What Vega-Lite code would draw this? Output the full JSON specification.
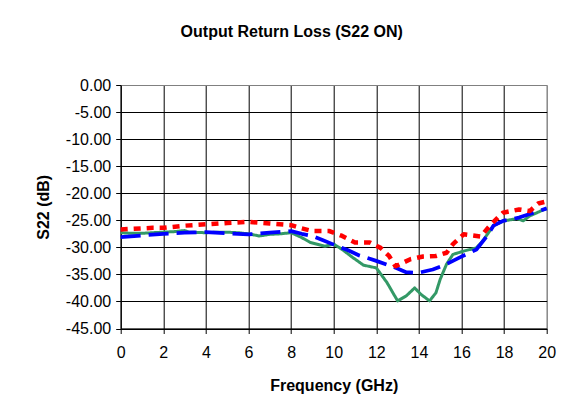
{
  "$schema": "https://vega.github.io/schema/vega-lite/v6.json",
  "autosize": "none",
  "width": 426,
  "height": 243.5,
  "padding": {"left": 120.7, "top": 85, "right": 19.3, "bottom": 80.5},
  "background": "white",
  "title": {
    "text": "Output Return Loss (S22 ON)",
    "font": "Liberation Sans",
    "fontSize": 16,
    "fontWeight": "bold",
    "color": "black",
    "anchor": "middle",
    "dx": -42,
    "offset": 37
  },
  "config": {
    "view": {"stroke": "#808080", "strokeWidth": 1},
    "axis": {
      "labelFont": "Liberation Sans",
      "labelFontSize": 16,
      "labelColor": "black",
      "labelFlush": false,
      "titleFont": "Liberation Sans",
      "titleFontSize": 16,
      "titleFontWeight": "bold",
      "titleColor": "black",
      "domainColor": "black",
      "tickColor": "black",
      "tickSize": 5,
      "gridOpacity": 1,
      "gridWidth": 1
    }
  },
  "data": {
    "values": [
      {"f": 0, "s22": -27.3, "series": "green"},
      {"f": 0.5, "s22": -27.4, "series": "green"},
      {"f": 1, "s22": -27.4, "series": "green"},
      {"f": 1.5, "s22": -27.3, "series": "green"},
      {"f": 2, "s22": -27.2, "series": "green"},
      {"f": 2.5, "s22": -27.1, "series": "green"},
      {"f": 3, "s22": -26.9, "series": "green"},
      {"f": 3.2, "s22": -27.2, "series": "green"},
      {"f": 4, "s22": -27.3, "series": "green"},
      {"f": 4.5, "s22": -27.2, "series": "green"},
      {"f": 5, "s22": -27.2, "series": "green"},
      {"f": 5.5, "s22": -27.3, "series": "green"},
      {"f": 6, "s22": -27.5, "series": "green"},
      {"f": 6.5, "s22": -27.9, "series": "green"},
      {"f": 7, "s22": -27.6, "series": "green"},
      {"f": 7.5, "s22": -27.5, "series": "green"},
      {"f": 8, "s22": -27.3, "series": "green"},
      {"f": 8.5, "s22": -28.2, "series": "green"},
      {"f": 8.9, "s22": -29.1, "series": "green"},
      {"f": 9.6, "s22": -29.8, "series": "green"},
      {"f": 10, "s22": -29.4, "series": "green"},
      {"f": 10.4, "s22": -30.4, "series": "green"},
      {"f": 10.9, "s22": -31.9, "series": "green"},
      {"f": 11.4, "s22": -33.3, "series": "green"},
      {"f": 12, "s22": -33.8, "series": "green"},
      {"f": 12.5, "s22": -36.5, "series": "green"},
      {"f": 13, "s22": -39.9, "series": "green"},
      {"f": 13.4, "s22": -39, "series": "green"},
      {"f": 13.8, "s22": -37.5, "series": "green"},
      {"f": 14.1, "s22": -38.7, "series": "green"},
      {"f": 14.5, "s22": -39.9, "series": "green"},
      {"f": 14.8, "s22": -38.4, "series": "green"},
      {"f": 15, "s22": -35.9, "series": "green"},
      {"f": 15.3, "s22": -33.1, "series": "green"},
      {"f": 15.6, "s22": -31.3, "series": "green"},
      {"f": 16.1, "s22": -30.7, "series": "green"},
      {"f": 16.7, "s22": -30.1, "series": "green"},
      {"f": 17, "s22": -28.8, "series": "green"},
      {"f": 17.5, "s22": -26, "series": "green"},
      {"f": 18, "s22": -25.1, "series": "green"},
      {"f": 18.6, "s22": -24.7, "series": "green"},
      {"f": 18.9, "s22": -25.1, "series": "green"},
      {"f": 19.2, "s22": -24.2, "series": "green"},
      {"f": 20, "s22": -22.8, "series": "green"},
      {"f": 0, "s22": -28.1, "series": "blue"},
      {"f": 1, "s22": -27.8, "series": "blue"},
      {"f": 2, "s22": -27.5, "series": "blue"},
      {"f": 3, "s22": -27.3, "series": "blue"},
      {"f": 4, "s22": -27.2, "series": "blue"},
      {"f": 5, "s22": -27.4, "series": "blue"},
      {"f": 6, "s22": -27.6, "series": "blue"},
      {"f": 7, "s22": -27.3, "series": "blue"},
      {"f": 8, "s22": -27, "series": "blue"},
      {"f": 8.5, "s22": -27.5, "series": "blue"},
      {"f": 9, "s22": -27.9, "series": "blue"},
      {"f": 9.5, "s22": -28.7, "series": "blue"},
      {"f": 10, "s22": -29.5, "series": "blue"},
      {"f": 10.65, "s22": -30.5, "series": "blue"},
      {"f": 11.2, "s22": -31.5, "series": "blue"},
      {"f": 12, "s22": -32.5, "series": "blue"},
      {"f": 12.8, "s22": -33.6, "series": "blue"},
      {"f": 13.4, "s22": -34.6, "series": "blue"},
      {"f": 14, "s22": -34.7, "series": "blue"},
      {"f": 14.65, "s22": -34.1, "series": "blue"},
      {"f": 15.2, "s22": -33.3, "series": "blue"},
      {"f": 15.9, "s22": -31.9, "series": "blue"},
      {"f": 16.7, "s22": -30.4, "series": "blue"},
      {"f": 17.2, "s22": -27.9, "series": "blue"},
      {"f": 17.5, "s22": -26, "series": "blue"},
      {"f": 17.95, "s22": -25.1, "series": "blue"},
      {"f": 18.7, "s22": -24.5, "series": "blue"},
      {"f": 19.4, "s22": -23.6, "series": "blue"},
      {"f": 20, "s22": -22.8, "series": "blue"},
      {"f": 0, "s22": -26.7, "series": "red"},
      {"f": 0.5, "s22": -26.6, "series": "red"},
      {"f": 1, "s22": -26.5, "series": "red"},
      {"f": 1.5, "s22": -26.4, "series": "red"},
      {"f": 2, "s22": -26.4, "series": "red"},
      {"f": 3, "s22": -26.0, "series": "red"},
      {"f": 4, "s22": -25.75, "series": "red"},
      {"f": 5, "s22": -25.5, "series": "red"},
      {"f": 6, "s22": -25.3, "series": "red"},
      {"f": 7, "s22": -25.6, "series": "red"},
      {"f": 8, "s22": -25.9, "series": "red"},
      {"f": 8.5, "s22": -26.5, "series": "red"},
      {"f": 9, "s22": -27, "series": "red"},
      {"f": 9.8, "s22": -27, "series": "red"},
      {"f": 10.4, "s22": -27.9, "series": "red"},
      {"f": 11, "s22": -29.1, "series": "red"},
      {"f": 11.7, "s22": -29.1, "series": "red"},
      {"f": 12.2, "s22": -30.1, "series": "red"},
      {"f": 12.6, "s22": -31.6, "series": "red"},
      {"f": 12.9, "s22": -33.5, "series": "red"},
      {"f": 13.6, "s22": -32.2, "series": "red"},
      {"f": 14.2, "s22": -31.7, "series": "red"},
      {"f": 14.8, "s22": -31.6, "series": "red"},
      {"f": 15.3, "s22": -31, "series": "red"},
      {"f": 15.6, "s22": -29.4, "series": "red"},
      {"f": 16.1, "s22": -27.6, "series": "red"},
      {"f": 16.9, "s22": -28, "series": "red"},
      {"f": 17.4, "s22": -25.7, "series": "red"},
      {"f": 17.95, "s22": -23.6, "series": "red"},
      {"f": 18.7, "s22": -23, "series": "red"},
      {"f": 19.2, "s22": -23.3, "series": "red"},
      {"f": 19.6, "s22": -21.9, "series": "red"},
      {"f": 20, "s22": -21.5, "series": "red"}
    ]
  },
  "mark": {"type": "line", "strokeCap": "butt", "strokeJoin": "round"},
  "encoding": {
    "x": {
      "field": "f",
      "type": "quantitative",
      "scale": {"domain": [0, 20], "nice": false},
      "axis": {
        "title": "Frequency (GHz)",
        "values": [0, 2, 4, 6, 8, 10, 12, 14, 16, 18, 20],
        "labelPadding": 11,
        "titlePadding": 17,
        "gridColor": {"condition": {"test": "datum.value == 20", "value": "#808080"}, "value": "black"}
      }
    },
    "y": {
      "field": "s22",
      "type": "quantitative",
      "scale": {"domain": [-45, 0], "nice": false},
      "axis": {
        "title": "S22 (dB)",
        "values": [0, -5, -10, -15, -20, -25, -30, -35, -40, -45],
        "labelExpr": "replace(format(datum.value, '.2f'), '\u2212', '-')",
        "labelPadding": 5,
        "titlePadding": 14,
        "gridColor": {"condition": {"test": "datum.value == 0", "value": "#808080"}, "value": "black"}
      }
    },
    "color": {
      "field": "series",
      "type": "nominal",
      "scale": {"domain": ["green", "blue", "red"], "range": ["#339966", "#0000FF", "#FF0000"]},
      "legend": null
    },
    "strokeDash": {
      "field": "series",
      "type": "nominal",
      "scale": {"domain": ["green", "blue", "red"], "range": [[1, 0], [20, 8], [7, 6]]},
      "legend": null
    },
    "strokeWidth": {
      "field": "series",
      "type": "nominal",
      "scale": {"domain": ["green", "blue", "red"], "range": [3, 4.5, 3]},
      "legend": null
    },
    "order": {"field": "f", "type": "quantitative"}
  }
}
